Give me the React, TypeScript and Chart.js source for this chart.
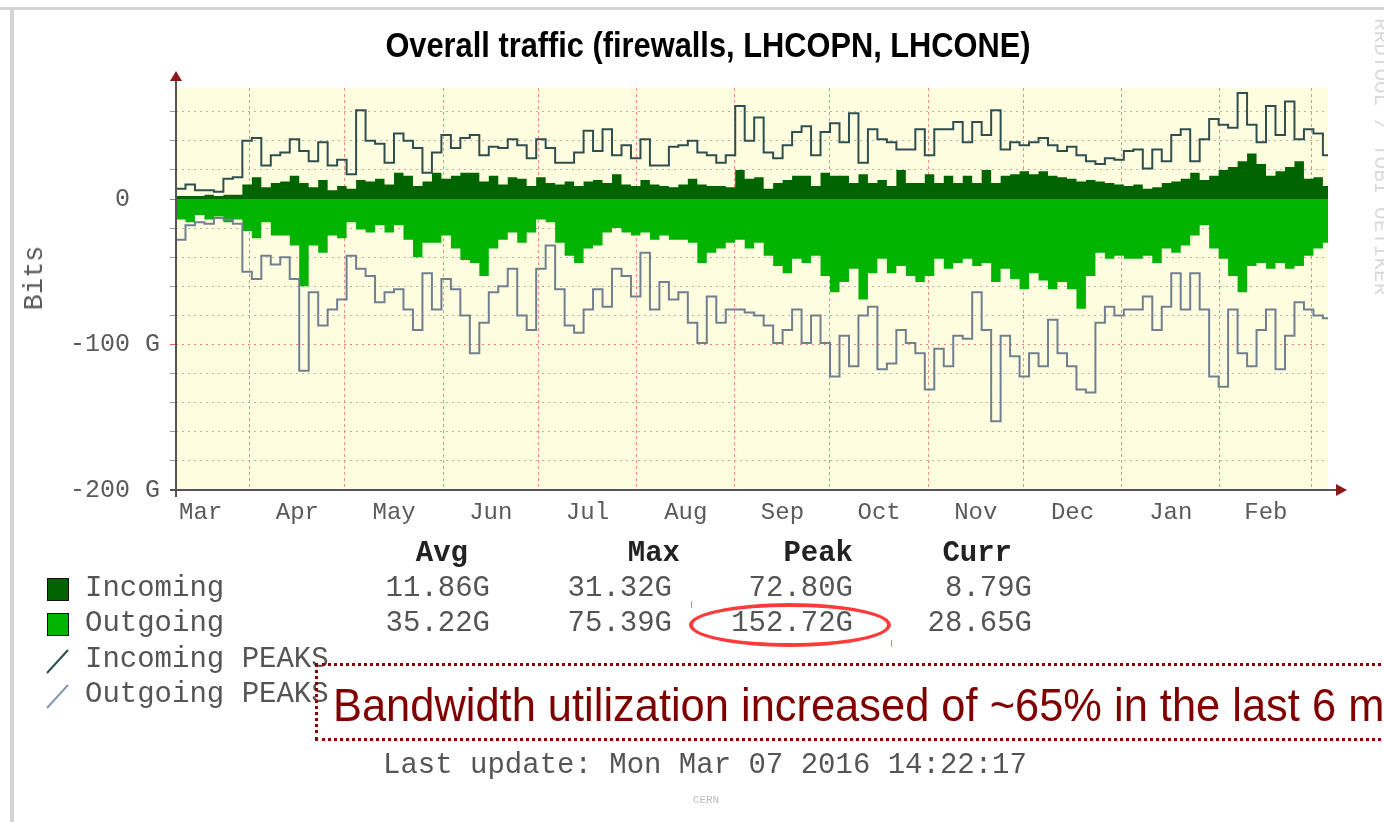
import React, { useEffect, useRef } from 'react';
import { Chart, registerables } from 'chart.js';

Chart.register(...registerables);

// x axis: days relative to 1 Apr 2015
const X_MIN = -23.3;
const X_MAX = 340.1;
const BIN_START = -23.3;
const BIN_DAYS = 2.99;

const MONTH_LABELS = ['Mar', 'Apr', 'May', 'Jun', 'Jul', 'Aug', 'Sep', 'Oct', 'Nov', 'Dec', 'Jan', 'Feb'];
const MONTH_STARTS = [-31, 0, 30, 61, 91, 122, 153, 183, 214, 244, 275, 306, 335];
const Y_GRID = [-200, -180, -160, -140, -120, -100, -80, -60, -40, -20, 0, 20, 40, 60];
const Y_MIN = -200;
const Y_MAX = 76.3;

// values in Gbit/s, one per ~3 days
const IN_AVG = [
  2, 2, 2, 3, 2, 3, 3, 10, 15, 8,
  11, 12, 16, 11, 8, 13, 6, 9, 7, 13,
  12, 14, 10, 18, 16, 9, 12, 18, 14, 16,
  18, 18, 12, 16, 10, 15, 14, 9, 15, 11,
  10, 12, 9, 12, 13, 11, 17, 10, 9, 13,
  10, 9, 8, 10, 14, 10, 9, 9, 8, 20,
  14, 15, 7, 11, 13, 16, 16, 9, 18, 16,
  16, 11, 17, 11, 13, 9, 20, 11, 11, 17,
  11, 16, 11, 16, 11, 20, 11, 16, 17, 19,
  17, 19, 16, 15, 14, 12, 13, 12, 11, 10,
  9, 10, 7, 8, 11, 12, 14, 18, 13, 16,
  20, 22, 26, 31.3, 24, 16, 19, 22, 26, 14,
  15, 9,
];

const OUT_AVG = [
  -14, -16, -11, -14, -12, -16, -14, -22, -27, -16,
  -25, -25, -32, -60, -32, -37, -25, -27, -16, -21,
  -23, -18, -23, -18, -28, -40, -30, -30, -25, -34,
  -42, -44, -53, -34, -28, -23, -30, -23, -14, -16,
  -30, -39, -44, -34, -32, -23, -20, -23, -25, -23,
  -28, -25, -28, -28, -30, -44, -37, -34, -30, -28,
  -34, -30, -39, -46, -51, -41, -44, -39, -53, -64,
  -57, -48, -69, -51, -41, -51, -46, -53, -57, -53,
  -41, -48, -44, -41, -46, -44, -57, -48, -55, -62,
  -51, -56, -62, -57, -62, -75.4, -53, -37, -41, -39,
  -41, -41, -39, -44, -34, -37, -32, -25, -18, -34,
  -41, -53, -64, -46, -44, -48, -44, -48, -46, -39,
  -34, -30,
];

const IN_PEAK = [
  7, 10, 6, 6, 5, 14, 15, 40, 42, 23,
  30, 32, 41, 33, 26, 39, 23, 27, 17, 61,
  40, 38, 25, 45, 40, 35, 18, 32, 44, 35,
  42, 44, 30, 36, 35, 41, 37, 28, 41, 35,
  25, 25, 32, 47, 33, 48, 30, 37, 28, 41,
  23, 23, 36, 37, 40, 32, 30, 25, 30, 64,
  40, 56, 32, 28, 37, 46, 50, 30, 46, 52,
  39, 59, 25, 48, 41, 39, 34, 34, 48, 30,
  48, 48, 53, 39, 53, 44, 61, 34, 39, 37,
  39, 42, 37, 33, 36, 30, 26, 24, 28, 27,
  33, 34, 21, 34, 26, 44, 48, 26, 41, 55,
  51, 49, 72.8, 51, 39, 64, 44, 67, 41, 48,
  45, 30,
];

const OUT_PEAK = [
  -28, -18, -16, -17, -13, -14, -17, -50, -55, -39,
  -45, -40, -55, -118, -64, -87, -76, -69, -39, -48,
  -53, -71, -64, -62, -76, -90, -51, -76, -55, -62,
  -80, -106, -85, -64, -60, -48, -80, -90, -48, -32,
  -62, -87, -92, -76, -62, -74, -48, -53, -67, -37,
  -76, -57, -69, -64, -85, -99, -67, -85, -76, -76,
  -78, -80, -87, -99, -90, -76, -99, -80, -99, -122,
  -94, -115, -80, -74, -117, -113, -90, -99, -106, -131,
  -103, -115, -94, -96, -64, -90, -152.7, -94, -108, -122,
  -106, -115, -83, -106, -115, -131, -133, -85, -74, -80,
  -76, -76, -67, -90, -74, -51, -76, -51, -76, -122,
  -129, -76, -106, -115, -90, -76, -117, -94, -71, -76,
  -80, -82,
];

const STAT_HEADERS = ['Avg', 'Max', 'Peak', 'Curr'];
const IN_STATS = ['11.86G', '31.32G', '72.80G', '8.79G'];
const OUT_STATS = ['35.22G', '75.39G', '152.72G', '28.65G'];
const LEGEND_LABELS = ['Incoming', 'Outgoing', 'Incoming PEAKS', 'Outgoing PEAKS'];

const C_IN = '#006400';
const C_OUT = '#00b400';
const C_IN_PEAK = '#2f4f4f';
const C_OUT_PEAK = '#708090';

const MONO = '"Liberation Mono", "DejaVu Sans Mono", monospace';

function toPoints(arr: number[]) {
  const pts = arr.map((v, i) => ({ x: BIN_START + i * BIN_DAYS, y: v }));
  pts.push({ x: BIN_START + arr.length * BIN_DAYS, y: arr[arr.length - 1] });
  return pts;
}

const decor = {
  id: 'decor',
  beforeDraw(chart: any) {
    const { ctx, chartArea: a } = chart;
    ctx.save();
    ctx.fillStyle = '#fffde0';
    ctx.fillRect(a.left, a.top, a.right - a.left, a.bottom - a.top);
    ctx.restore();
  },
  afterDraw(chart: any) {
    const { ctx, chartArea: a } = chart;
    ctx.save();
    ctx.strokeStyle = '#555555';
    ctx.lineWidth = 2;
    ctx.beginPath();
    ctx.moveTo(a.left, a.bottom + 7);
    ctx.lineTo(a.left, a.top - 9);
    ctx.stroke();
    ctx.beginPath();
    ctx.moveTo(a.left - 6, a.bottom);
    ctx.lineTo(a.right + 9, a.bottom);
    ctx.stroke();
    ctx.fillStyle = '#8b1a1a';
    ctx.beginPath();
    ctx.moveTo(a.left, a.top - 17);
    ctx.lineTo(a.left - 6, a.top - 7);
    ctx.lineTo(a.left + 6, a.top - 7);
    ctx.closePath();
    ctx.fill();
    ctx.beginPath();
    ctx.moveTo(a.right + 19, a.bottom);
    ctx.lineTo(a.right + 8, a.bottom - 6);
    ctx.lineTo(a.right + 8, a.bottom + 6);
    ctx.closePath();
    ctx.fill();
    ctx.restore();
  },
};

export default function App() {
  const ref = useRef<HTMLCanvasElement>(null);

  useEffect(() => {
    const canvas = ref.current;
    if (!canvas) return;
    const mids = MONTH_LABELS.map((_, i) => ({ value: (MONTH_STARTS[i] + MONTH_STARTS[i + 1]) / 2 }));
    const isMajor = (c: any) => c && c.tick && Math.abs(c.tick.value % 100) < 1e-6;
    const chart = new Chart(canvas, {
      type: 'line',
      data: {
        datasets: [
          { label: 'Incoming PEAKS', data: toPoints(IN_PEAK), borderColor: C_IN_PEAK, borderWidth: 2, stepped: 'before', pointRadius: 0, fill: false, order: 0 },
          { label: 'Outgoing PEAKS', data: toPoints(OUT_PEAK), borderColor: C_OUT_PEAK, borderWidth: 2, stepped: 'before', pointRadius: 0, fill: false, order: 0 },
          { label: 'Incoming', data: toPoints(IN_AVG), borderWidth: 0, borderColor: C_IN, backgroundColor: C_IN, stepped: 'before', pointRadius: 0, fill: 'origin', order: 1 },
          { label: 'Outgoing', data: toPoints(OUT_AVG), borderWidth: 0, borderColor: C_OUT, backgroundColor: C_OUT, stepped: 'before', pointRadius: 0, fill: 'origin', order: 1 },
        ],
      } as any,
      options: {
        responsive: false,
        animation: false,
        devicePixelRatio: 1,
        layout: { padding: { left: 0, top: 88, right: 56, bottom: 292 } },
        plugins: { legend: { display: false }, tooltip: { enabled: false }, title: { display: false } },
        scales: {
          x: {
            type: 'linear', min: X_MIN, max: X_MAX, position: 'bottom', z: 1,
            afterBuildTicks: (s: any) => { s.ticks = MONTH_STARTS.slice(1).map((v) => ({ value: v })); },
            afterFit: (s: any) => { s.height = 0; },
            ticks: { display: false, autoSkip: false },
            grid: { color: 'rgba(238,110,110,0.8)', lineWidth: 1, drawTicks: false },
            border: { display: false, dash: [3, 3] },
          },
          xLabels: {
            type: 'linear', min: X_MIN, max: X_MAX, position: 'bottom',
            afterBuildTicks: (s: any) => { s.ticks = mids.map((m) => ({ value: m.value })); },
            afterFit: (s: any) => { s.height = 40; },
            ticks: {
              autoSkip: false, maxRotation: 0, minRotation: 0, padding: 8,
              font: { family: MONO, size: 24 }, color: '#5a5a5a',
              callback: (_v: any, i: number) => MONTH_LABELS[i],
            },
            grid: { display: false, drawTicks: false },
            border: { display: false },
          },
          y: {
            type: 'linear', min: Y_MIN, max: Y_MAX, z: 1,
            afterBuildTicks: (s: any) => { s.ticks = Y_GRID.map((v) => ({ value: v })); },
            afterFit: (s: any) => { s.width = 176; },
            ticks: {
              autoSkip: false,
              padding: 10, font: { family: MONO, size: 25 }, color: '#5a5a5a',
              callback: (v: any) => (v === 0 ? '0  ' : Math.abs(v % 100) < 1e-6 ? `${v} G` : ''),
            },
            grid: {
              color: (c: any) => (isMajor(c) ? 'rgba(238,100,100,0.85)' : 'rgba(160,160,160,0.8)'),
              tickColor: (c: any) => (isMajor(c) ? 'rgba(230,80,80,0.9)' : '#9a9a9a'),
              lineWidth: 1, tickLength: 6, drawTicks: true,
            },
            border: { display: false, dash: [2, 4] },
          },
        },
      } as any,
      plugins: [decor],
    });
    return () => chart.destroy();
  }, []);

  const txt: React.CSSProperties = { position: 'absolute', whiteSpace: 'pre', fontFamily: MONO, fontSize: 29, lineHeight: '34px', color: '#555' };
  const statRight = [490, 672, 853, 1032];
  const headRight = [468, 680, 853, 1012];
  const rowCenter = [589, 624, 660, 695];

  return (
    <div style={{ position: 'fixed', left: 0, top: 0, width: 1384, height: 822, overflow: 'hidden', background: '#ffffff' }}>
      <canvas ref={ref} width={1384} height={822} style={{ position: 'absolute', left: 0, top: 0, width: 1384, height: 822 }} />
      {/* frame */}
      <div style={{ position: 'absolute', left: 0, top: 7, width: 1384, height: 3, background: '#d4d4d4' }} />
      <div style={{ position: 'absolute', left: 10, top: 7, width: 4, height: 815, background: '#d4d4d4' }} />
      {/* title */}
      <div style={{ position: 'absolute', left: 708, top: 25, transform: 'translateX(-50%) scaleX(0.88)', whiteSpace: 'pre', fontFamily: '"Liberation Sans", Arial, sans-serif', fontWeight: 'bold', fontSize: 35, lineHeight: '40px', color: '#000' }}>
        Overall traffic (firewalls, LHCOPN, LHCONE)
      </div>
      {/* y axis title */}
      <div style={{ ...txt, fontSize: 27, left: 35, top: 278, transform: 'translate(-50%, -50%) rotate(-90deg)', color: '#5a5a5a' }}>Bits</div>
      {/* side credit */}
      <div style={{ position: 'absolute', left: 1370, top: 18, writingMode: 'vertical-rl', whiteSpace: 'pre', fontFamily: MONO, fontSize: 21, lineHeight: '21px', color: '#dadada' }}>RRDTOOL / TOBI OETIKER</div>
      {/* stats headers */}
      {STAT_HEADERS.map((h, i) => (
        <div key={h} style={{ ...txt, fontWeight: 'bold', color: '#222', right: 1384 - headRight[i], top: 554 - 17 }}>{h}</div>
      ))}
      {/* legend */}
      <div style={{ position: 'absolute', left: 47, top: 578, width: 20, height: 21, background: C_IN, border: '1px solid #111' }} />
      <div style={{ position: 'absolute', left: 47, top: 613, width: 20, height: 21, background: C_OUT, border: '1px solid #111' }} />
      <svg style={{ position: 'absolute', left: 44, top: 647 }} width={28} height={28}>
        <line x1={3} y1={26} x2={24} y2={3} stroke={C_IN_PEAK} strokeWidth={2} />
      </svg>
      <svg style={{ position: 'absolute', left: 44, top: 682 }} width={28} height={28}>
        <line x1={3} y1={26} x2={24} y2={3} stroke="#8a9aae" strokeWidth={2} />
      </svg>
      {LEGEND_LABELS.map((l, i) => (
        <div key={l} style={{ ...txt, left: 85, top: rowCenter[i] - 17 }}>{l}</div>
      ))}
      {IN_STATS.map((s, i) => (
        <div key={'in' + i} style={{ ...txt, right: 1384 - statRight[i], top: rowCenter[0] - 17 }}>{s}</div>
      ))}
      {OUT_STATS.map((s, i) => (
        <div key={'out' + i} style={{ ...txt, right: 1384 - statRight[i], top: rowCenter[1] - 17 }}>{s}</div>
      ))}
      {/* highlight ellipse */}
      <div style={{ position: 'absolute', left: 689, top: 603, width: 202, height: 44, boxSizing: 'border-box', border: '4px solid #ff3a3a', borderRadius: '50%' }} />
      <div style={{ position: 'absolute', left: 691, top: 601, width: 1, height: 7, background: '#f08080' }} />
      <div style={{ position: 'absolute', left: 891, top: 640, width: 1, height: 7, background: '#f08080' }} />
      {/* annotation box */}
      <div style={{ position: 'absolute', left: 315, top: 663, width: 1120, height: 78, boxSizing: 'border-box', border: '3px dotted #8b0000' }} />
      <div style={{ position: 'absolute', left: 333, top: 678, transformOrigin: 'left center', transform: 'scaleX(0.924)', whiteSpace: 'pre', fontFamily: '"Liberation Sans", Arial, sans-serif', fontSize: 47, lineHeight: '54px', color: '#800000' }}>
        Bandwidth utilization increased of ~65% in the last 6 m
      </div>
      {/* footer */}
      <div style={{ ...txt, left: 383, top: 766 - 17 }}>Last update: Mon Mar 07 2016 14:22:17</div>
      <div style={{ ...txt, fontSize: 11, lineHeight: '14px', left: 706, top: 793, transform: 'translateX(-50%)', color: '#bdbdbd' }}>CERN</div>
    </div>
  );
}
